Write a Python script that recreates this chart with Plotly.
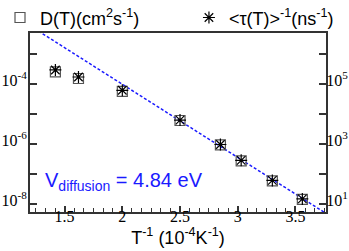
import plotly.graph_objects as go

# data
inv_T = [1.42, 1.62, 2.0, 2.5, 2.85, 3.03, 3.3, 3.56]          # 10^-4 K^-1
D_T = [2.6e-4, 1.56e-4, 5.8e-5, 6.2e-6, 9.5e-7, 2.8e-7, 6.0e-8, 1.46e-8]   # cm^2 s^-1
tau_inv = [3.0e5, 1.75e5, 6.3e4, 6.4e3, 9.8e2, 2.9e2, 6.2e1, 1.5e1]      # ns^-1
fit_x = [1.2, 3.77]
fit_D = [8.95e-3, 4.8e-9]

left_ticks = [1e-8, 1e-7, 1e-6, 1e-5, 1e-4, 1e-3]
left_text = ["10<sup>-8</sup>", " ", "10<sup>-6</sup>", " ", "10<sup>-4</sup>", " "]
right_ticks = [1e1, 1e2, 1e3, 1e4, 1e5, 1e6]
right_text = ["10<sup>1</sup>", " ", "10<sup>3</sup>", " ", "10<sup>5</sup>", " "]

SANS = "Liberation Sans, Arial, sans-serif"
SERIF = "Liberation Serif, Times New Roman, serif"
AX = "#333333"

fig = go.Figure()
fig.add_trace(go.Scatter(x=fit_x, y=fit_D, mode="lines", showlegend=False,
                         line=dict(color="#1a1aff", width=1.5, dash="3px,2px")))
fig.add_trace(go.Scatter(x=inv_T, y=D_T, mode="markers", legend="legend",
                         name="D(T)(cm<sup>2</sup>s<sup>-1</sup>)",
                         marker=dict(symbol="square-open", size=10, color="#555555",
                                     line=dict(width=1.2))))
fig.add_trace(go.Scatter(x=inv_T, y=tau_inv, mode="markers", yaxis="y2", legend="legend2",
                         name="<τ(T)><sup>-1</sup>(ns<sup>-1</sup>)",
                         marker=dict(symbol="asterisk-open", size=10, color="black",
                                     line=dict(width=1.2, color="black"))))

fig.add_annotation(xref="paper", yref="paper", x=0.045, y=0.173, xanchor="left",
                   yanchor="middle", showarrow=False,
                   text="V<sub>diffusion</sub> = 4.84 eV",
                   font=dict(family=SANS, size=20, color="#1a1aff"))

legend_common = dict(orientation="h", yanchor="middle", xanchor="left", y=1.085,
                     font=dict(family=SANS, size=18, color="black"),
                     bgcolor="rgba(0,0,0,0)", itemwidth=30)

fig.update_layout(
    width=349, height=251,
    margin=dict(l=30, r=23, t=33, b=39, autoexpand=False),
    paper_bgcolor="white", plot_bgcolor="white",
    showlegend=True,
    legend=dict(xref="container", x=0.0, **legend_common),
    legend2=dict(x=0.537, **legend_common),
    xaxis=dict(range=[1.2, 3.765], showgrid=False, zeroline=False, automargin=False,
               showline=True, linecolor=AX, linewidth=2, mirror=True,
               ticks="inside", ticklen=6, tickcolor=AX, tickwidth=1.5,
               tick0=0, dtick=0.5, ticklabelstandoff=-11,
               minor=dict(dtick=0.5 / 6, tick0=0, ticks="inside", ticklen=4,
                          tickcolor=AX, tickwidth=1.2),
               tickfont=dict(family=SERIF, size=16, color="black"),
               title=dict(text="T<sup>-1</sup> (10<sup>-4</sup>K<sup>-1</sup>)",
                          font=dict(family=SANS, size=18, color="black"), standoff=0)),
    yaxis=dict(type="log", range=[-8.26, -2.29], showgrid=False, zeroline=False,
               automargin=False, ticklabelstandoff=-2, ticklabelshift=-4,
               showline=True, linecolor=AX, linewidth=2,
               ticks="inside", ticklen=7, tickcolor=AX, tickwidth=1.5,
               tickmode="array", tickvals=left_ticks, ticktext=left_text,
               tickfont=dict(family=SERIF, size=16, color="black")),
    yaxis2=dict(type="log", range=[0.74, 6.71], overlaying="y", side="right",
                showgrid=False, zeroline=False, automargin=False,
                ticklabelstandoff=-5, ticklabelshift=-4,
                showline=True, linecolor=AX, linewidth=2,
                ticks="inside", ticklen=7, tickcolor=AX, tickwidth=1.5,
                tickmode="array", tickvals=right_ticks, ticktext=right_text,
                tickfont=dict(family=SERIF, size=16, color="black")),
)

fig.write_html("out.html", config={"displayModeBar": False},
               post_script="document.body.style.margin='0';document.body.style.overflow='hidden';")
